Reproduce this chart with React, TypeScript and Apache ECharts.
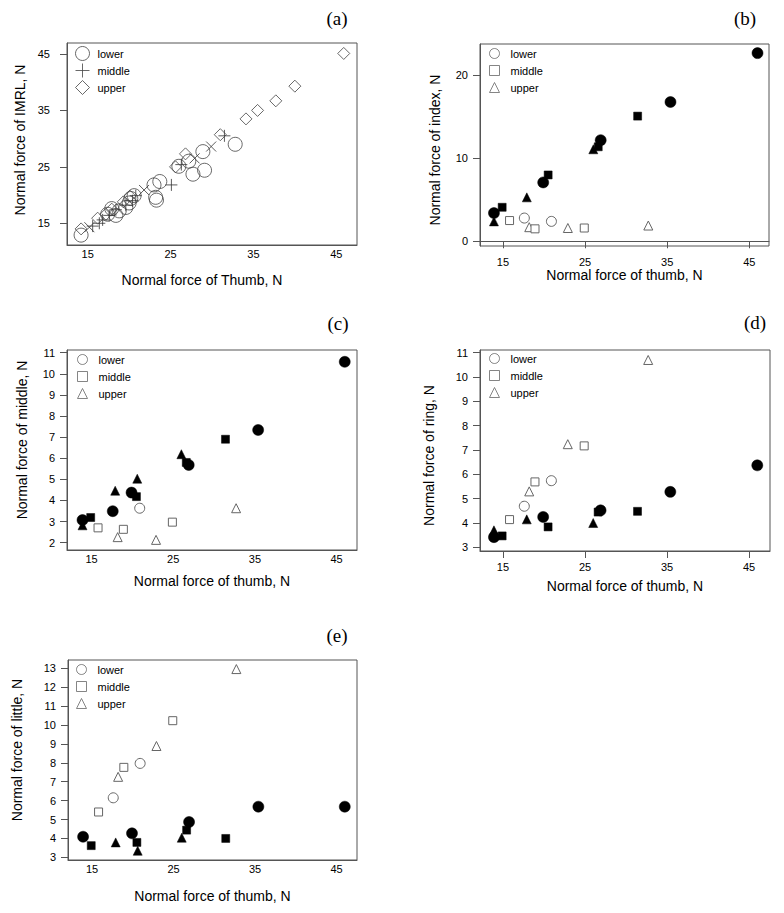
import React, { useEffect, useRef } from "react";
import * as echarts from "echarts";

const FONT = "'Liberation Sans', Arial, Helvetica, sans-serif";
const SERIF = "'Liberation Serif', 'Times New Roman', serif";

// ---------- Panel (a): IMRL vs thumb ----------
const imrlLower: number[][] = [
  [14.2, 12.9], [17.4, 16.6], [17.9, 17.6], [18.4, 16.4], [18.8, 17.2], [19.6, 17.8],
  [20.0, 18.6], [20.2, 19.4], [20.6, 19.9], [23.0, 21.8], [23.2, 19.6], [23.3, 19.1],
  [23.7, 22.4], [26.0, 25.1], [27.2, 26.0], [27.7, 23.7], [28.9, 27.7], [29.1, 24.4],
  [32.8, 29.0],
];
const imrlMiddle: number[][] = [
  [15.6, 14.5], [16.4, 15.0], [16.8, 15.6], [17.6, 16.4], [18.4, 17.4], [19.6, 18.2],
  [20.4, 19.0], [20.8, 19.9], [25.1, 21.8], [26.3, 25.4], [31.5, 30.5],
];
const imrlCross: number[][] = [
  [15.2, 14.3], [21.8, 20.9], [27.9, 26.5], [29.9, 28.6],
];
const imrlUpper: number[][] = [
  [14.2, 14.0], [16.2, 15.9], [17.2, 16.6], [17.9, 17.5], [19.3, 18.8], [20.1, 19.8],
  [25.6, 25.0], [26.8, 27.3], [31.0, 30.7], [34.1, 33.5], [35.5, 35.0], [37.7, 36.7],
  [40.0, 39.3], [45.9, 45.1],
];

// ---------- Panels (b)-(e): thumb values per group ----------
const thumbLower = [13.9, 17.6, 19.9, 20.9, 26.9, 35.4, 46.0];
const thumbMiddle = [14.9, 15.8, 18.9, 20.5, 24.9, 26.6, 31.4];
const thumbUpper = [13.9, 17.9, 18.2, 20.6, 22.9, 26.0, 32.7];

// open (hollow) markers flags
const openLower = [false, true, false, true, false, false, false];
const openLowerMiddleFinger = [false, false, false, true, false, false, false];
const openMiddle = [false, true, true, false, true, false, false];
const openUpper = [false, false, true, false, true, false, true];

// (b) index finger
const indexLower = [3.4, 2.8, 7.1, 2.4, 12.2, 16.8, 22.7];
const indexMiddle = [4.1, 2.5, 1.5, 8.0, 1.6, 11.4, 15.1];
const indexUpper = [2.4, 5.3, 1.7, null, 1.6, 11.1, 1.9];

// (c) middle finger
const middleLower = [3.07, 3.49, 4.37, 3.63, 5.68, 7.34, 10.57];
const middleMiddle = [3.19, 2.7, 2.63, 4.18, 2.97, 5.8, 6.9];
const middleUpper = [2.82, 4.46, 2.26, 5.03, 2.13, 6.19, 3.63];

// (d) ring finger
const ringLower = [3.42, 4.69, 4.25, 5.74, 4.52, 5.28, 6.37];
const ringMiddle = [3.47, 4.14, 5.69, 3.84, 7.17, 4.45, 4.48];
const ringUpper = [3.7, 4.15, 5.3, null, 7.24, 4.0, 10.7];

// (e) little finger
const littleLower = [4.09, 6.15, 4.27, 7.97, 4.87, 5.68, 5.68];
const littleMiddle = [3.62, 5.4, 7.76, 3.79, 10.23, 4.44, 4.0];
const littleUpper = [null, 3.79, 7.26, 3.35, 8.89, 4.04, 12.96];

// ---------- tick labels ----------
const thumbTicks = [15, 25, 35, 45];
const imrlTicks = [15, 25, 35, 45];
const indexTicks = [0, 10, 20];
const middleTicks = [2, 3, 4, 5, 6, 7, 8, 9, 10, 11];
const ringTicks = [3, 4, 5, 6, 7, 8, 9, 10, 11];
const littleTicks = [3, 4, 5, 6, 7, 8, 9, 10, 11, 12, 13];

const groupNames = ["lower", "middle", "upper"];
const panelLetters = ["(a)", "(b)", "(c)", "(d)", "(e)"];
const xTitles = [
  "Normal force of Thumb, N",
  "Normal force of thumb, N",
  "Normal force of thumb, N",
  "Normal force of thumb, N",
  "Normal force of thumb, N",
];
const yTitles = [
  "Normal force of IMRL, N",
  "Normal force of index, N",
  "Normal force of middle, N",
  "Normal force of ring, N",
  "Normal force of little, N",
];

const PLUS = "path://M0,6L12,6M6,0L6,12";
const CROSS = "path://M0,0L10,10M10,0L0,10";

type Layout = {
  left: number; top: number; width: number; height: number;
  xMin: number; xMax: number; yMin: number; yMax: number;
  yTicks: number[]; xTickShow: boolean; xLabelMargin: number;
  xNameGap: number; yNameGap: number; yLabelMargin: number; yNamePad: number[];
  legendLeft: number; legendTop: number;
  letterX: number; letterY: number;
};

const layouts: Layout[] = [
  { left: 67, top: 43, width: 290, height: 202, xMin: 12.5, xMax: 47.5, yMin: 11.15, yMax: 46.95,
    yTicks: imrlTicks, xTickShow: false, xLabelMargin: 3, xNameGap: 28, yNameGap: 40, yLabelMargin: 17,
    yNamePad: [0, 0, 0, 8],
    legendLeft: 75, legendTop: 46, letterX: 337, letterY: 18 },
  { left: 480, top: 44, width: 289, height: 202, xMin: 12.2, xMax: 47.4, yMin: -0.57, yMax: 23.8,
    yTicks: indexTicks, xTickShow: true, xLabelMargin: 10, xNameGap: 22, yNameGap: 38, yLabelMargin: 12,
    yNamePad: [0, 10, 0, 0],
    legendLeft: 489, legendTop: 48, letterX: 745, letterY: 18 },
  { left: 67, top: 350, width: 290, height: 200, xMin: 12.0, xMax: 47.5, yMin: 1.65, yMax: 11.13,
    yTicks: middleTicks, xTickShow: false, xLabelMargin: 3, xNameGap: 24, yNameGap: 38, yLabelMargin: 12,
    yNamePad: [0, 0, 0, 20],
    legendLeft: 77, legendTop: 354, letterX: 338, letterY: 323 },
  { left: 480, top: 350, width: 290, height: 201, xMin: 12.2, xMax: 47.55, yMin: 2.85, yMax: 11.11,
    yTicks: ringTicks, xTickShow: true, xLabelMargin: 10, xNameGap: 28, yNameGap: 44, yLabelMargin: 12,
    yNamePad: [0, 10, 0, 0],
    legendLeft: 489, legendTop: 353, letterX: 755, letterY: 322 },
  { left: 68, top: 660, width: 289, height: 200, xMin: 12.05, xMax: 47.5, yMin: 2.86, yMax: 13.44,
    yTicks: littleTicks, xTickShow: false, xLabelMargin: 3, xNameGap: 29, yNameGap: 44, yLabelMargin: 12,
    yNamePad: [0, 0, 0, 20],
    legendLeft: 76, legendTop: 664, letterX: 337, letterY: 635 },
];

const labelStyle = { color: "#000", fontSize: 11, fontFamily: FONT };
const nameStyle = { color: "#000", fontSize: 14, fontFamily: FONT };

function buildGroupSeries(
  gi: number,
  groupName: string,
  xs: number[],
  ys: (number | null)[],
  open: boolean[],
  symbol: string,
  filledSize: number,
  openSize: number
) {
  const filled: number[][] = [];
  const hollow: number[][] = [];
  xs.forEach((x, i) => {
    const y = ys[i];
    if (y === null || y === undefined) return;
    (open[i] ? hollow : filled).push([x, y]);
  });
  return [
    {
      type: "scatter", name: groupName + " (filled)", xAxisIndex: gi, yAxisIndex: gi,
      symbol, symbolSize: filledSize, data: filled,
      itemStyle: { color: "#000", borderColor: "#000", borderWidth: 0.5, opacity: 1 },
    },
    {
      type: "scatter", name: groupName, xAxisIndex: gi, yAxisIndex: gi,
      symbol, symbolSize: openSize, data: hollow, z: 3,
      itemStyle: { color: "#fff", borderColor: "#666", borderWidth: 1, opacity: 1 },
    },
  ];
}

export default function App() {
  const ref = useRef<HTMLDivElement>(null);

  useEffect(() => {
    if (!ref.current) return;
    const chart = echarts.init(ref.current, null, { renderer: "svg" });

    const grid = layouts.map((l) => ({
      left: l.left, top: l.top, width: l.width, height: l.height,
      show: true, borderColor: "#555", borderWidth: 1, backgroundColor: "transparent",
      containLabel: false, outerBoundsMode: "none",
    }));

    const xAxis = layouts.map((l, i) => ({
      type: "value", gridIndex: i, min: l.xMin, max: l.xMax,
      name: xTitles[i], nameLocation: "middle", nameGap: l.xNameGap,
      nameTextStyle: { ...nameStyle, padding: i === 0 ? [0, 20, 0, 0] : 0 },
      axisLine: { show: true, lineStyle: { color: "#555", width: 1 } },
      axisTick: { show: l.xTickShow, length: 7, inside: false, customValues: thumbTicks, lineStyle: { color: "#555" } },
      axisLabel: { ...labelStyle, margin: l.xLabelMargin, customValues: thumbTicks, showMinLabel: true, showMaxLabel: true },
      splitLine: { show: false },
    }));

    const yAxis = layouts.map((l, i) => ({
      type: "value", gridIndex: i, min: l.yMin, max: l.yMax,
      name: yTitles[i], nameLocation: "middle", nameGap: l.yNameGap,
      nameTextStyle: { ...nameStyle, padding: l.yNamePad },
      axisLine: { show: true, lineStyle: { color: "#555", width: 1 } },
      axisTick: { show: true, length: 7, inside: false, customValues: l.yTicks, lineStyle: { color: "#555" } },
      axisLabel: { ...labelStyle, margin: l.yLabelMargin, customValues: l.yTicks, showMinLabel: true, showMaxLabel: true },
      splitLine: { show: false },
    }));

    const series: any[] = [
      {
        type: "scatter", name: "lower", xAxisIndex: 0, yAxisIndex: 0, data: imrlLower,
        symbol: "circle", symbolSize: 14,
        itemStyle: { color: "transparent", borderColor: "#444", borderWidth: 1 },
      },
      {
        type: "scatter", name: "middle", xAxisIndex: 0, yAxisIndex: 0, data: imrlMiddle,
        symbol: PLUS, symbolSize: 12,
        itemStyle: { color: "transparent", borderColor: "#333", borderWidth: 1 },
      },
      {
        type: "scatter", name: "other", xAxisIndex: 0, yAxisIndex: 0, data: imrlCross,
        symbol: CROSS, symbolSize: 10,
        itemStyle: { color: "transparent", borderColor: "#333", borderWidth: 1 },
      },
      {
        type: "scatter", name: "upper", xAxisIndex: 0, yAxisIndex: 0, data: imrlUpper,
        symbol: "diamond", symbolSize: 12,
        itemStyle: { color: "transparent", borderColor: "#444", borderWidth: 1 },
      },
    ];

    const panels = [
      { gi: 1, lo: indexLower, mi: indexMiddle, up: indexUpper, ol: openLower },
      { gi: 2, lo: middleLower, mi: middleMiddle, up: middleUpper, ol: openLowerMiddleFinger },
      { gi: 3, lo: ringLower, mi: ringMiddle, up: ringUpper, ol: openLower },
      { gi: 4, lo: littleLower, mi: littleMiddle, up: littleUpper, ol: openLower },
    ];
    panels.forEach((p) => {
      series.push(...buildGroupSeries(p.gi, "upper", thumbUpper, p.up, openUpper, "triangle", 9, 9));
      series.push(...buildGroupSeries(p.gi, "middle", thumbMiddle, p.mi, openMiddle, "rect", 8, 8));
      series.push(...buildGroupSeries(p.gi, "lower", thumbLower, p.lo, p.ol, "circle", 11, 10));
    });

    const legendItemStyle = { color: "transparent", borderColor: "#555", borderWidth: 1 };
    const legend = layouts.map((l, i) => {
      const isA = i === 0;
      const icons = isA ? ["circle", PLUS, "diamond"] : ["circle", "rect", "triangle"];
      return {
        orient: "vertical", left: l.legendLeft, top: l.legendTop,
        itemWidth: isA ? 14 : 10, itemHeight: isA ? 14 : 10, itemGap: isA ? 2 : 6,
        selectedMode: false, padding: 0,
        textStyle: { color: "#000", fontSize: 11, fontFamily: FONT, padding: [0, 0, 0, isA ? 3 : 6] },
        data: groupNames.map((n, k) => ({
          name: n, icon: icons[k],
          itemStyle: { ...legendItemStyle, borderColor: isA ? "#444" : "#666" },
        })),
      };
    });

    const graphic = layouts.map((l, i) => ({
      type: "text", x: l.letterX, y: l.letterY,
      style: {
        text: panelLetters[i], font: `19px ${SERIF}`, fill: "#000",
        textAlign: "center", textVerticalAlign: "middle",
      },
    }));

    chart.setOption({
      animation: false,
      backgroundColor: "#fff",
      grid, xAxis, yAxis, series, legend, graphic,
    });

    return () => chart.dispose();
  }, []);

  return (
    <div
      ref={ref}
      style={{ position: "fixed", left: 0, top: 0, width: 784, height: 913, background: "#fff" }}
    />
  );
}
